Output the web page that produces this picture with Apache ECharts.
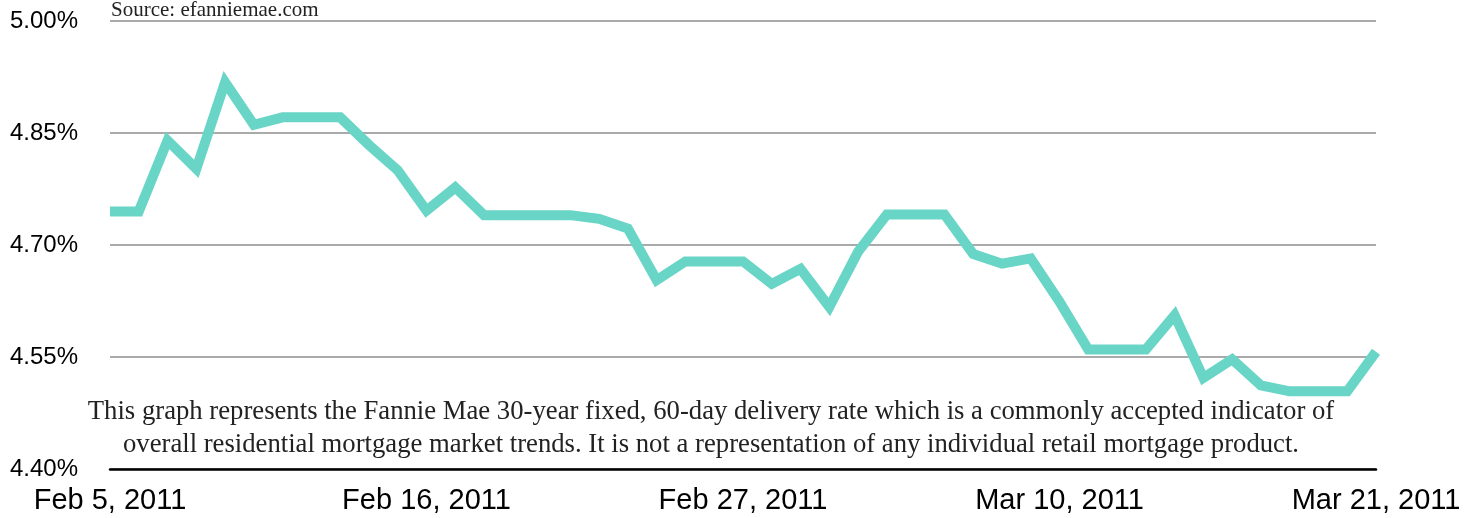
<!DOCTYPE html>
<html>
<head>
<meta charset="utf-8">
<script src="https://cdn.jsdelivr.net/npm/echarts@6/dist/echarts.min.js"></script>
<style>
  html, body { margin: 0; padding: 0; background: #fff; }
  #chart { width: 1474px; height: 518px; }
</style>
</head>
<body>
<div id="chart"></div>
<script>
// daily rates, Feb 5 .. Mar 21 2011
const startDate = new Date(2011, 1, 5);
const rates = [
  4.745, 4.745, 4.840, 4.802, 4.918, 4.861, 4.871, 4.871, 4.871, 4.834,
  4.800, 4.746, 4.777, 4.740, 4.740, 4.740, 4.740, 4.735, 4.722, 4.653,
  4.678, 4.678, 4.678, 4.648, 4.668, 4.617, 4.691, 4.741, 4.741, 4.741,
  4.688, 4.675, 4.682, 4.624, 4.560, 4.560, 4.560, 4.606, 4.522, 4.547,
  4.512, 4.504, 4.504, 4.504, 4.557
];
const yTicks = [4.40, 4.55, 4.70, 4.85, 5.00];
const months = ['Jan', 'Feb', 'Mar', 'Apr'];
const noteLines = [
  'This graph represents the Fannie Mae 30-year fixed, 60-day delivery rate which is a commonly accepted indicator of',
  'overall residential mortgage market trends. It is not a representation of any individual retail mortgage product.'
];
const sourceText = 'Source: efanniemae.com';

const dates = rates.map((_, i) => {
  const d = new Date(startDate.getTime());
  d.setDate(d.getDate() + i);
  return months[d.getMonth()] + ' ' + d.getDate() + ', ' + d.getFullYear();
});

const chart = echarts.init(document.getElementById('chart'));
const serif = '"Liberation Serif", "DejaVu Serif", serif';
const sans = '"Liberation Sans", Arial, sans-serif';

chart.setOption({
  animation: false,
  grid: { left: 110, right: 98, top: 21, bottom: 49 },
  xAxis: {
    type: 'category',
    data: dates,
    boundaryGap: false,
    axisLine: { lineStyle: { color: '#000', width: 2.5 } },
    axisTick: { show: false },
    axisLabel: {
      interval: 10,
      color: '#000',
      fontFamily: sans,
      fontSize: 29,
      margin: 17,
      showMaxLabel: true
    },
    splitLine: { show: false }
  },
  yAxis: {
    type: 'value',
    min: 4.40,
    max: 5.00,
    axisLine: { show: false },
    axisTick: { show: false, customValues: yTicks },
    axisLabel: {
      customValues: yTicks,
      color: '#000',
      fontFamily: sans,
      fontSize: 24,
      margin: 32,
      formatter: v => v.toFixed(2) + '%'
    },
    splitLine: { show: true, lineStyle: { color: '#aaaaaa', width: 2 } }
  },
  series: [{
    type: 'line',
    data: rates,
    symbol: 'none',
    lineStyle: { color: '#68d5c6', width: 10, join: 'miter' },
    z: 3
  }],
  graphic: [
    {
      type: 'text',
      x: 111,
      y: 21,
      style: {
        text: sourceText,
        font: '21px ' + serif,
        fill: '#222',
        textVerticalAlign: 'bottom'
      }
    },
    {
      type: 'text',
      x: 711,
      y: 412,
      style: {
        text: noteLines[0],
        font: '26.7px ' + serif,
        fill: '#222',
        textAlign: 'center',
        textVerticalAlign: 'middle'
      }
    },
    {
      type: 'text',
      x: 711,
      y: 445,
      style: {
        text: noteLines[1],
        font: '26.7px ' + serif,
        fill: '#222',
        textAlign: 'center',
        textVerticalAlign: 'middle'
      }
    }
  ]
});
</script>
</body>
</html>
